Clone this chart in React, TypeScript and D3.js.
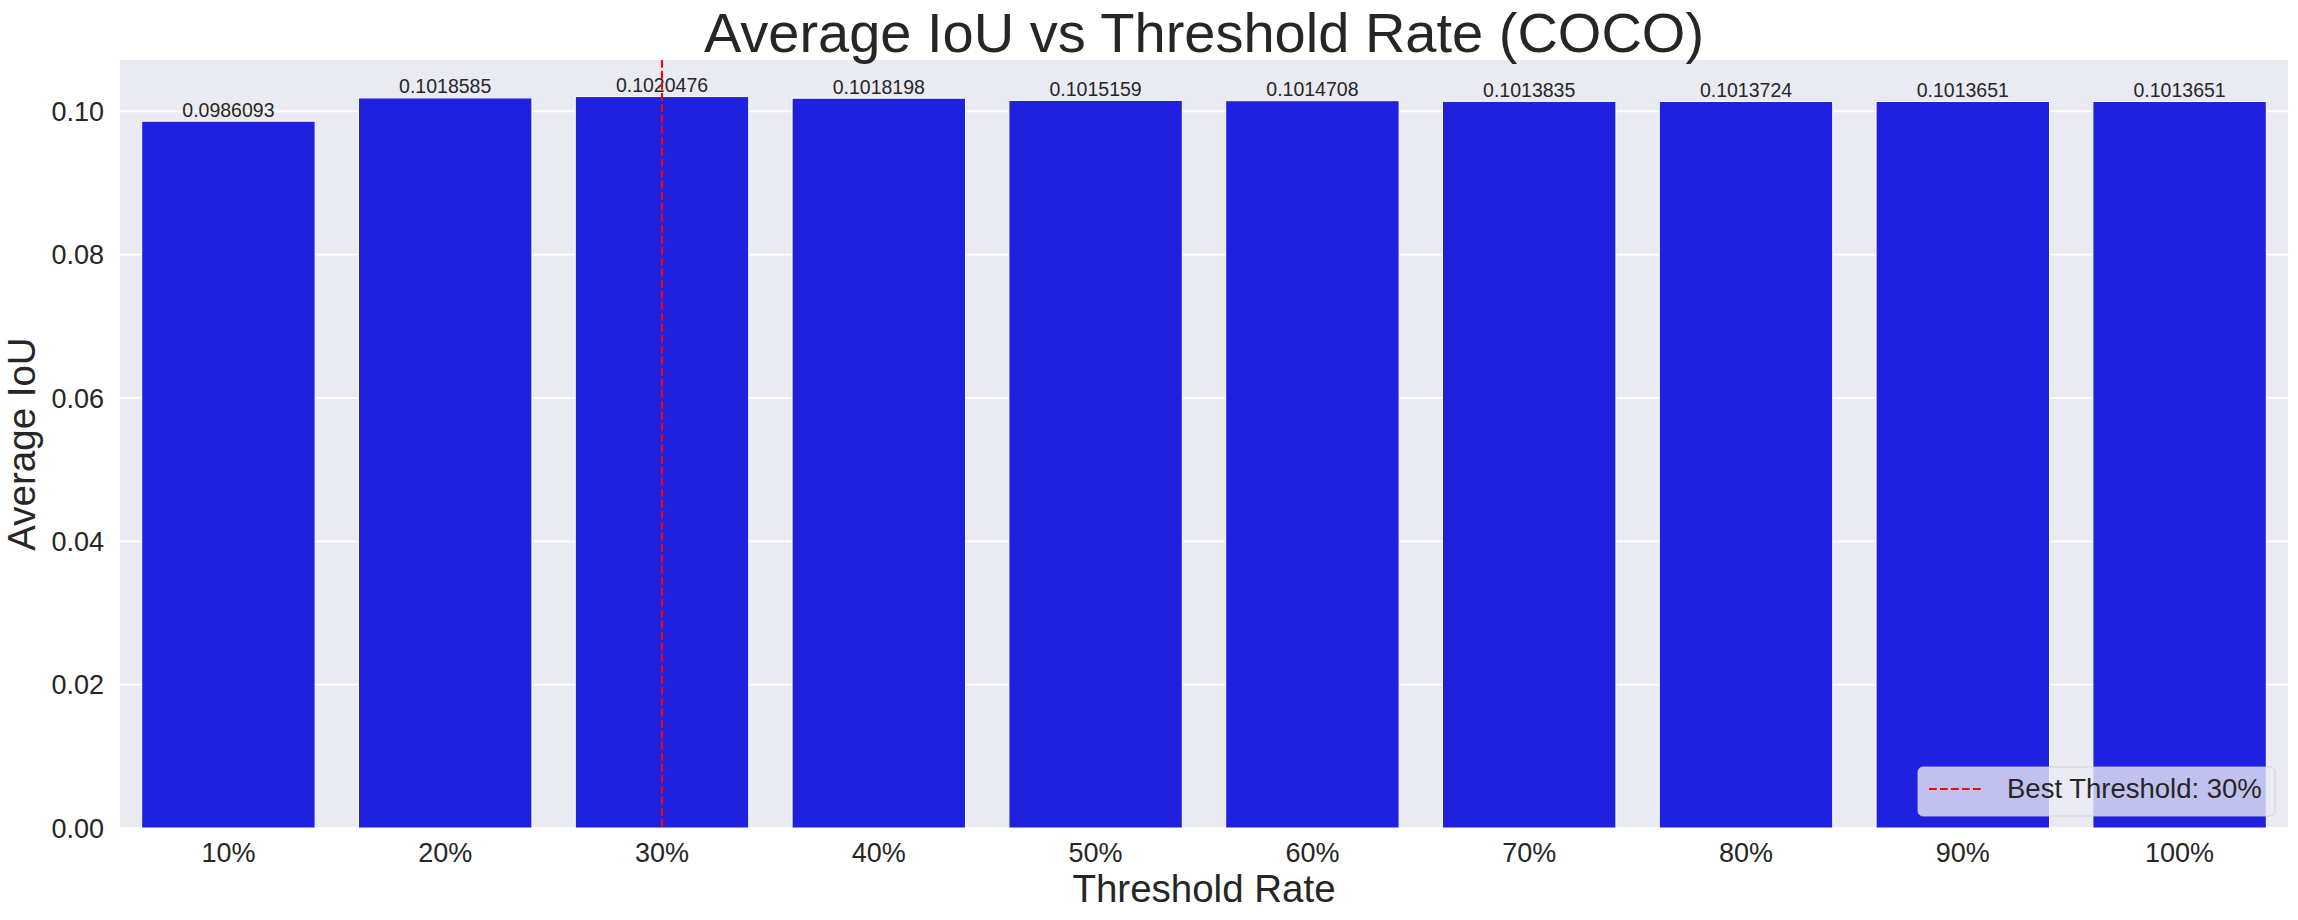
import * as d3 from "d3";

const categories = ["10%", "20%", "30%", "40%", "50%", "60%", "70%", "80%", "90%", "100%"];
const iouValues = [
  0.0986093, 0.1018585, 0.1020476, 0.1018198, 0.1015159, 0.1014708, 0.1013835, 0.1013724,
  0.1013651, 0.1013651,
];
const yTicks = [0, 0.02, 0.04, 0.06, 0.08, 0.1];
const bestThreshold = "30%";

const FONT = "'Liberation Sans', Arial, sans-serif";
const TEXT = "#262626";

export default function App() {
  const width = 2298;
  const height = 920;
  const plot = { left: 120, right: 2288, top: 60, bottom: 828 };

  const x = d3
    .scaleBand()
    .domain(categories)
    .range([plot.left, plot.right])
    .paddingInner(0.2)
    .paddingOuter(0.1);
  const y = d3
    .scaleLinear()
    .domain([0, (d3.max(iouValues) ?? 0.1) * 1.05])
    .range([plot.bottom, plot.top]);

  const bestX = (x(bestThreshold) ?? 0) + x.bandwidth() / 2;
  const cx = (plot.left + plot.right) / 2;
  const cy = (plot.top + plot.bottom) / 2;

  return (
    <svg
      width={width}
      height={height}
      viewBox={`0 0 ${width} ${height}`}
      style={{ position: "absolute", left: 0, top: 0, display: "block", background: "#fff" }}
      fontFamily={FONT}
    >
      <rect
        x={plot.left}
        y={plot.top}
        width={plot.right - plot.left}
        height={plot.bottom - plot.top}
        fill="#EAEAF2"
      />
      {yTicks.map((tick) => (
        <g key={tick}>
          <line
            x1={plot.left}
            x2={plot.right}
            y1={y(tick)}
            y2={y(tick)}
            stroke="#fff"
            strokeWidth={1.8}
          />
          <text
            x={104}
            y={y(tick)}
            dy="0.36em"
            textAnchor="end"
            fontSize={27}
            fill={TEXT}
          >
            {d3.format(".2f")(tick)}
          </text>
        </g>
      ))}
      {categories.map((cat, i) => {
        const bx = x(cat) ?? 0;
        const by = y(iouValues[i]);
        return (
          <g key={cat}>
            <rect
              x={bx}
              y={by}
              width={x.bandwidth()}
              height={plot.bottom - by}
              fill="#2020DF"
              stroke="#fff"
              strokeWidth={1}
            />
            <text
              x={bx + x.bandwidth() / 2}
              y={by - 4.5}
              textAnchor="middle"
              fontSize={19.5}
              fill={TEXT}
            >
              {iouValues[i].toFixed(7)}
            </text>
            <text
              x={bx + x.bandwidth() / 2}
              y={862}
              textAnchor="middle"
              fontSize={27}
              fill={TEXT}
            >
              {cat}
            </text>
          </g>
        );
      })}
      <line
        x1={bestX}
        x2={bestX}
        y1={plot.top}
        y2={plot.bottom}
        stroke="red"
        strokeWidth={2.1}
        strokeDasharray="7.7 3.3"
      />
      <text x={cx} y={52} textAnchor="middle" fontSize={56} fill={TEXT}>
        Average IoU vs Threshold Rate (COCO)
      </text>
      <text x={cx} y={902} textAnchor="middle" fontSize={38.5} fill={TEXT}>
        Threshold Rate
      </text>
      <text
        transform={`translate(35, ${cy}) rotate(-90)`}
        textAnchor="middle"
        fontSize={38.5}
        fill={TEXT}
      >
        Average IoU
      </text>
      <g>
        <rect
          x={1918}
          y={767}
          width={357}
          height={49}
          rx={5}
          fill="#EAEAF2"
          fillOpacity={0.8}
          stroke="#cccccc"
          strokeOpacity={0.8}
          strokeWidth={1}
        />
        <line
          x1={1929}
          x2={1982}
          y1={789}
          y2={789}
          stroke="red"
          strokeWidth={2.1}
          strokeDasharray="7.7 3.3"
        />
        <text x={2007} y={798} fontSize={27.5} fill={TEXT}>
          Best Threshold: {bestThreshold}
        </text>
      </g>
    </svg>
  );
}
